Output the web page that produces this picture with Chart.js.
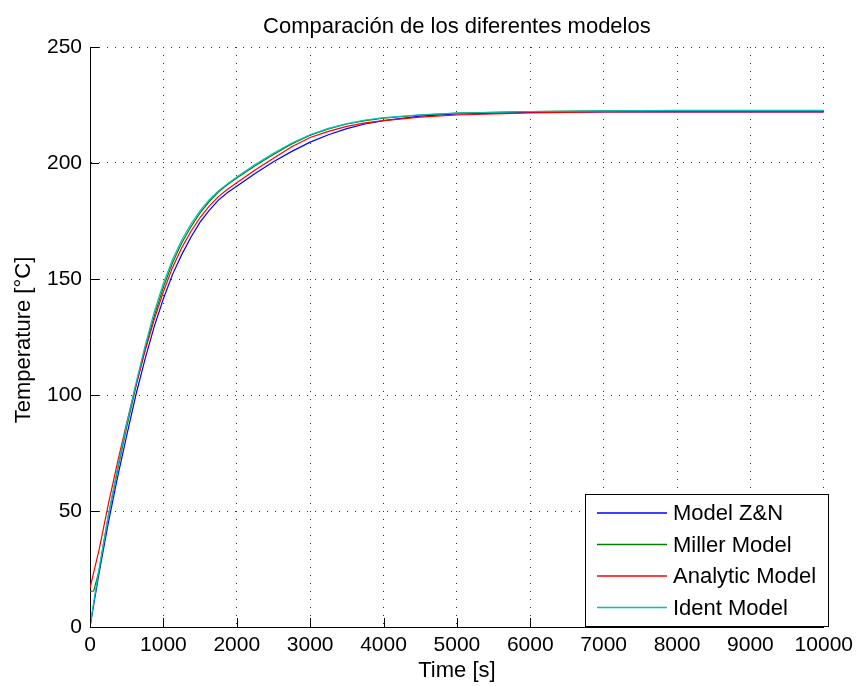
<!DOCTYPE html>
<html lang="es">
<head>
  <meta charset="UTF-8">
  <title>Comparación de los diferentes modelos</title>
  <script src="https://cdn.jsdelivr.net/npm/chart.js"></script>
  <style>
    body {
      margin: 0;
      background-color: #ffffff;
    }
    canvas {
      display: block;
    }
  </style>
</head>
<body>
  <canvas id="modelChart" width="859" height="686"></canvas>

<script>
// time samples (s) and the temperature (°C)
const times = [0, 50, 125, 250, 375, 500, 625, 750, 875, 1000, 1125, 1250, 1375, 1500, 1625, 1750, 1875, 2000,
               2250, 2500, 2750, 3000, 3250, 3500, 3750, 4000, 4500, 5000, 6000, 7000, 8000, 9000, 10000];
const modelZN = [0, 9.5, 23.5, 45, 64.5, 82.5, 100, 115.5, 129.5, 141.5, 152, 160.5, 168, 174.5, 179.6, 184, 187.3, 190,
                 195.5, 200.5, 205, 209, 212.2, 214.8, 216.8, 218.3, 220.2, 221.2, 221.8, 222, 222, 222, 222];
const millerModel = [15.3, 15.5, 24.5, 48, 67.5, 86, 103.5, 119.5, 134, 146.5, 157, 165.5, 172.5, 178.5, 183.4, 187.5, 190.7, 193.5,
                     198.8, 203.7, 208.2, 212, 214.7, 216.8, 218.3, 219.3, 220.7, 221.5, 222.2, 222.5, 222.6, 222.6, 222.6];
const analyticModel = [16.8, 23.5, 33.5, 53, 71, 88, 104, 119, 132.5, 144.5, 155, 163.5, 170.5, 176.5, 181.4, 185.5, 188.7, 191.5,
                       197, 202, 207, 211, 213.6, 215.8, 217.3, 218.3, 219.8, 220.7, 221.6, 222, 222, 222, 222];
const identModel = [0, 10.6, 25.4, 48, 68.5, 87.4, 104.9, 121.2, 135.8, 148.2, 158.4, 166.8, 173.7, 179.5, 184.2, 188, 191.1, 194,
                    199.3, 204.2, 208.6, 212.2, 214.9, 217, 218.5, 219.6, 220.8, 221.5, 222.2, 222.5, 222.7, 222.7, 222.7];

const seriesNames = ['Model Z&N', 'Miller Model', 'Analytic Model', 'Ident Model'];
const seriesColors = ['#0000ff', '#008000', '#ff0000', '#00bfbf'];
const xTicks = [0, 1000, 2000, 3000, 4000, 5000, 6000, 7000, 8000, 9000, 10000];
const yTicks = [0, 50, 100, 150, 200, 250];

const chartTitle = 'Comparación de los diferentes modelos';
const xLabel = 'Time [s]';
const yLabel = 'Temperature [°C]';

const FONT = '"Liberation Sans", Arial, sans-serif';

function toPoints(values) {
  return times.map((t, i) => ({ x: t, y: values[i] }));
}

// inward tick marks, titles and the boxed legend (MATLAB look)
const matlabDecor = {
  id: 'matlabDecor',
  afterDatasetsDraw(chart) {
    const ctx = chart.ctx;
    const area = chart.chartArea;
    const xs = chart.scales.x;
    const ys = chart.scales.y;
    const tickLen = 9;

    ctx.save();
    ctx.strokeStyle = '#000';
    ctx.lineWidth = 1;
    ctx.beginPath();
    xTicks.forEach(v => {
      const px = Math.round(xs.getPixelForValue(v)) + 0.5;
      ctx.moveTo(px, area.bottom);
      ctx.lineTo(px, area.bottom - tickLen);
    });
    yTicks.forEach(v => {
      const py = Math.round(ys.getPixelForValue(v)) + 0.5;
      ctx.moveTo(area.left, py);
      ctx.lineTo(area.left + tickLen, py);
    });
    ctx.stroke();

    // legend box
    const bx = 585.5, by = 494.5, bw = 243, bh = 132;
    ctx.fillStyle = '#fff';
    ctx.fillRect(bx, by, bw, bh);
    ctx.strokeRect(bx, by, bw, bh);
    ctx.font = '22px ' + FONT;
    ctx.textBaseline = 'middle';
    ctx.textAlign = 'left';
    chart.data.datasets.forEach((ds, i) => {
      const rowY = 513 + i * 31.5;
      ctx.strokeStyle = ds.borderColor;
      ctx.lineWidth = 1.3;
      ctx.beginPath();
      ctx.moveTo(597, rowY);
      ctx.lineTo(667, rowY);
      ctx.stroke();
      ctx.fillStyle = '#000';
      ctx.fillText(ds.label, 673, rowY + 1);
    });

    // titles
    ctx.fillStyle = '#000';
    ctx.textBaseline = 'alphabetic';
    ctx.textAlign = 'center';
    ctx.fillText(chartTitle, (area.left + area.right) / 2, 33);
    ctx.fillText(xLabel, (area.left + area.right) / 2, 677);
    ctx.translate(30, 340);
    ctx.rotate(-Math.PI / 2);
    ctx.fillText(yLabel, 0, 0);
    ctx.restore();
  }
};

const ctx = document.getElementById('modelChart').getContext('2d');
new Chart(ctx, {
  type: 'line',
  data: {
    datasets: [modelZN, millerModel, analyticModel, identModel].map((vals, i) => ({
      label: seriesNames[i],
      data: toPoints(vals),
      borderColor: seriesColors[i],
      backgroundColor: seriesColors[i],
      borderWidth: 1.2,
      pointRadius: 0,
      tension: 0,
      fill: false,
      order: 3 - i
    }))
  },
  options: {
    responsive: false,
    devicePixelRatio: 1,
    animation: false,
    layout: { padding: { left: 0, top: 47, right: 30, bottom: 0 } },
    plugins: {
      legend: { display: false },
      title: { display: false },
      tooltip: { enabled: false }
    },
    scales: {
      x: {
        type: 'linear',
        min: 0,
        max: 10000,
        afterFit: s => { s.height = 59; },
        afterBuildTicks: s => { s.ticks = xTicks.map(v => ({ value: v })); },
        ticks: {
          padding: 6,
          color: '#000',
          font: { family: FONT, size: 21 },
          maxRotation: 0,
          callback: v => String(v)
        },
        grid: { color: '#333', lineWidth: 1, drawTicks: false },
        border: { display: true, color: '#000', width: 1, dash: [1, 7] }
      },
      y: {
        min: 0,
        max: 250,
        afterFit: s => { s.width = 90; },
        afterBuildTicks: s => { s.ticks = yTicks.map(v => ({ value: v })); },
        ticks: {
          padding: 8,
          color: '#000',
          font: { family: FONT, size: 21 },
          callback: v => String(v)
        },
        grid: { color: '#333', lineWidth: 1, drawTicks: false },
        border: { display: true, color: '#000', width: 1, dash: [1, 7] }
      }
    }
  },
  plugins: [matlabDecor]
});
</script>
</body>
</html>
